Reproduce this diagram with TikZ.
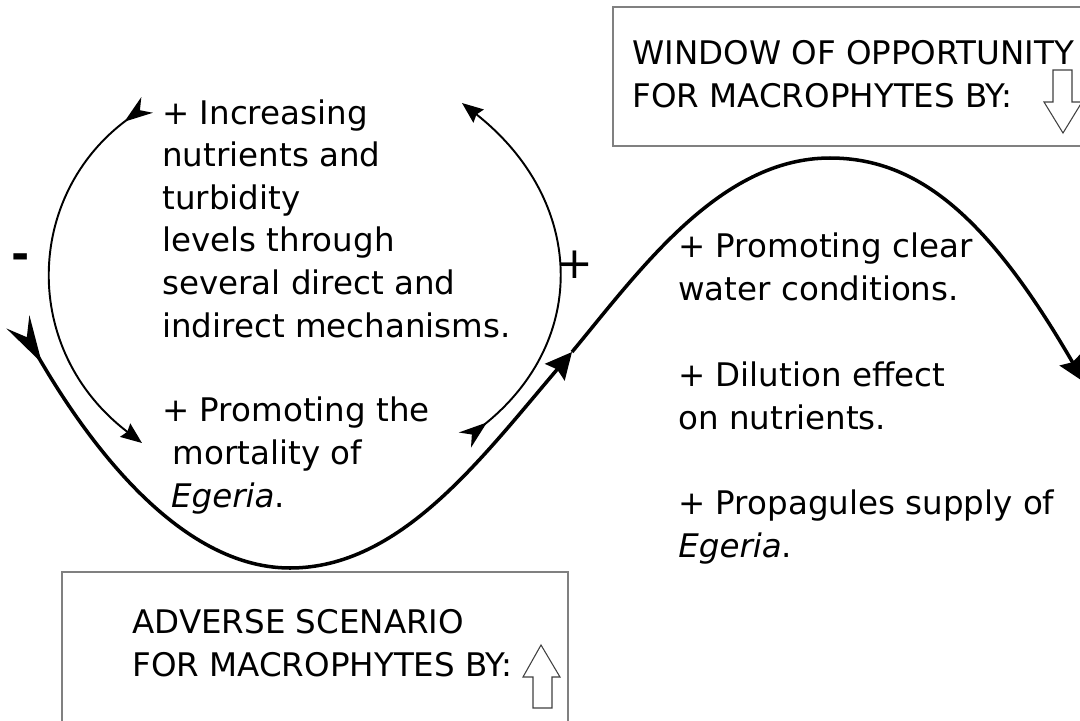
\documentclass[tikz,border=0pt]{standalone}
\usepackage{fontspec}
\setmainfont{DejaVu Sans}
\usetikzlibrary{arrows.meta}
\definecolor{boxgray}{RGB}{128,128,128}
\tikzset{
  loop/.style={line width=2pt},
  link/.style={line width=1.1pt},
  frame/.style={draw=boxgray, line width=0.9pt},
  hollow/.style={draw=black!75, line width=0.6pt, fill=white},
  % base of a multi-line node is its last line
  txt/.style={align=left, anchor=base west, inner sep=0pt, font=\fontsize{18.5}{24.2}\selectfont},
  sign/.style={inner sep=0pt, font=\fontsize{25}{25}\selectfont},
  bighead/.tip={Stealth[length=15pt,width=14.5pt,inset=2pt]},
  bigtail/.tip={Stealth[reversed,length=27pt,width=15pt,inset=10pt]},
  smallhead/.tip={Stealth[length=12pt,width=9.5pt,inset=1.5pt]},
  smalltail/.tip={Stealth[reversed,length=16pt,width=11pt,inset=5pt]},
}
\begin{document}
\begin{tikzpicture}[x=0.02cm,y=-0.02cm]
  \clip (0,0) rectangle (1080,721);
  %boxes
  \draw[frame] (613,7) rectangle (1100,146);
  \draw[frame] (62,572) rectangle (568,740);
  \node[txt] (window) at (632,107) {WINDOW OF OPPORTUNITY\\FOR MACROPHYTES BY:};
  \node[txt] (adverse) at (132,676) {ADVERSE SCENARIO\\FOR MACROPHYTES BY:};
  \draw[hollow] (1053,70) -- (1072,70) -- (1072,102) -- (1082,102) -- (1063,133)
    -- (1044,102) -- (1053,102) -- cycle;
  \draw[hollow] (533,708) -- (552,708) -- (552,677) -- (560,677) -- (541,645)
    -- (523,677) -- (533,677) -- cycle;
  %text blocks
  \node[txt] (incr) at (162,337) {+ Increasing\\nutrients and\\turbidity\\levels through\\several direct and\\indirect mechanisms.};
  \node[txt] (mort) at (162,507) {+ Promoting the\\\hspace*{6pt}mortality of\\\hspace*{5pt}\textit{Egeria}.};
  \node[txt] (clear) at (678,300) {+ Promoting clear\\water conditions.};
  \node[txt] (dil) at (678,429) {+ Dilution effect\\on nutrients.};
  \node[txt] (prop) at (678,557) {+ Propagules supply of\\\textit{Egeria}.};
  \node[sign, font=\fontsize{25}{25}\selectfont\bfseries] (minus) at (21,262) {-};
  \node[sign] (plus) at (575,265) {+};
  %main curve
  \coordinate (tail) at (18,322);
  \coordinate (low) at (290,568);
  \coordinate (mid) at (572,352);
  \coordinate (hump) at (830,158);
  \coordinate (exit) at (1084,382);
  \draw[loop, bigtail-bighead] (tail) .. controls (75,420) and (170,568) .. (low)
    .. controls (400,568) and (480,460) .. (mid);
  \draw[loop, -bighead] (mid) .. controls (640,270) and (720,158) .. (hump)
    .. controls (920,158) and (990,220) .. (exit);
  %feedback arcs
  \coordinate (l1) at (147,105);
  \coordinate (l2) at (142,443);
  \coordinate (r1) at (465,440);
  \coordinate (r2) at (462,103);
  \draw[link, smalltail-smallhead] (l1) .. controls (25,195) and (20,350) .. (l2);
  \draw[link, smalltail-smallhead] (r1) .. controls (590,340) and (585,200) .. (r2);
\end{tikzpicture}
\end{document}
